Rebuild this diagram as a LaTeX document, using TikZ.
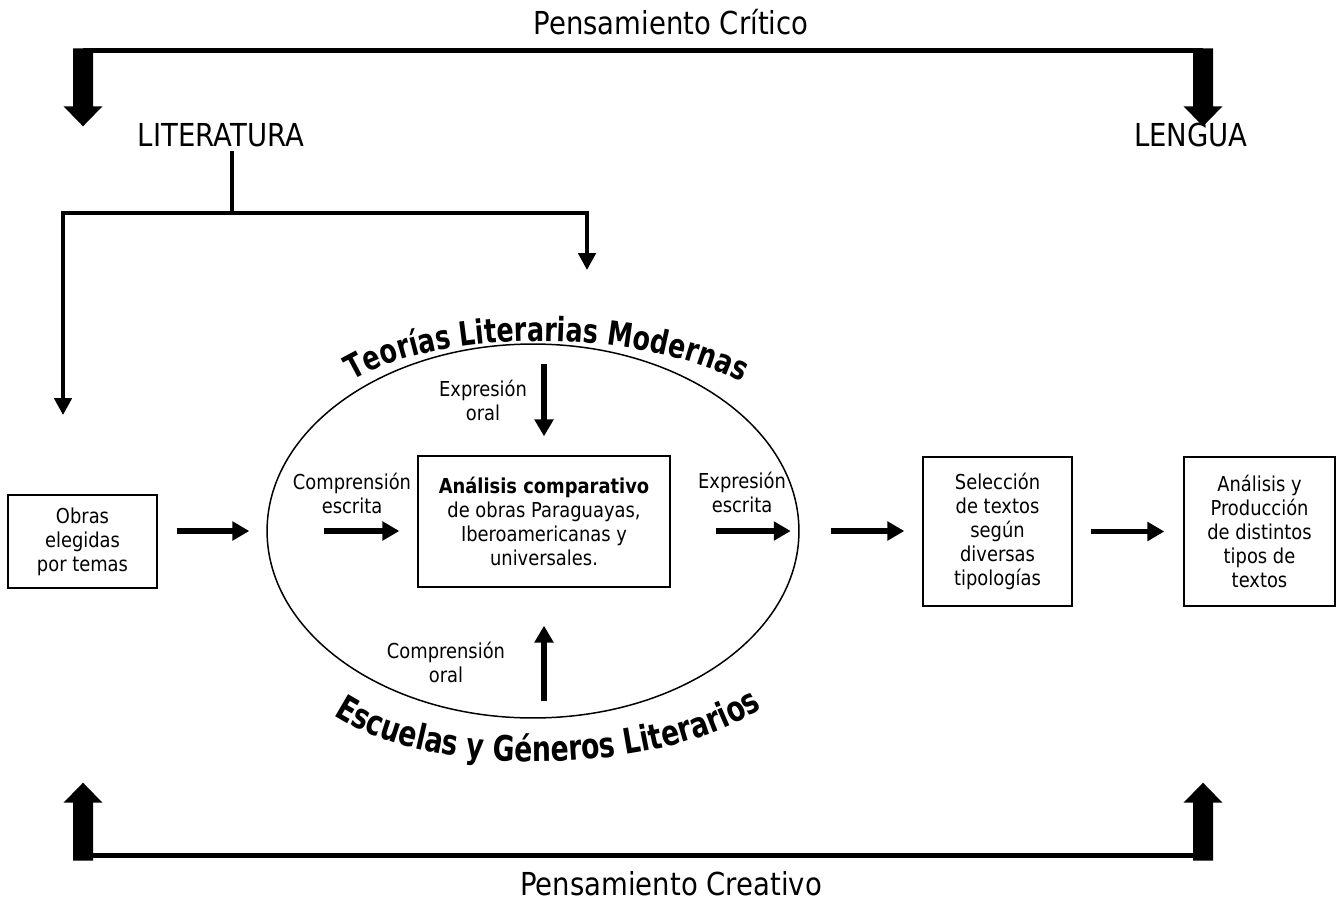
\documentclass[tikz,border=0pt]{standalone}
\usepackage{fontspec}
\setmainfont{DejaVu Sans}[FakeStretch=0.87]
\newfontfamily\arcfont{DejaVu Sans}[FakeStretch=0.76]
\usetikzlibrary{arrows.meta,shapes.geometric,decorations.text}

\newcommand\lblsize{\fontsize{11.7}{13.7}\selectfont}
\newcommand\bigsize{\fontsize{18}{21}\selectfont}
\newcommand\arctop{\arcfont\bfseries\fontsize{19}{19}\selectfont}
\newcommand\arcbot{\arcfont\bfseries\fontsize{20}{20}\selectfont}

\tikzset{%
    box/.style={draw, line width=0.8pt, align=center, inner sep=0pt, font=\lblsize},
    lbl/.style={align=center, inner sep=0pt, font=\lblsize},
    title/.style={font=\bigsize, inner sep=2pt},
    flow/.style={line width=3.1pt, -{Triangle[length=9.6pt,width=10.4pt]}},
    link/.style={line width=2.2pt},
    linkarrow/.style={link, -{Triangle[length=9.6pt,width=9.8pt]}},
    bracket/.style={line width=2.9pt},
    bigarrow/.pic={\fill (-10,0) -- (10,0) -- (10,58) -- (19.5,58) -- (0,78) -- (-19.5,58) -- (-10,58) -- cycle;}
}

\begin{document}
\begin{tikzpicture}[x=0.02cm,y=-0.02cm]
    \useasboundingbox (0,0) rectangle (1337,902);
%-----------------------------------------------
    \node[title, anchor=base] (critico) at (671,35) {Pensamiento Crítico};
    \node[title, anchor=base] (literatura) at (221,147) {LITERATURA};
    \node[title, anchor=base] (lengua) at (1191,147) {LENGUA};
    \node[title, anchor=base] (creativo) at (671,895) {Pensamiento Creativo};
%-----------------------------------------------
    \pic at (83,48.3) {bigarrow};
    \pic at (1203,48.3) {bigarrow};
    \coordinate (critL) at (83,50.8);
    \coordinate (critR) at (1203,50.8);
    \draw[bracket] (critL) -- (critR);
    \pic[rotate=180] at (83,860.7) {bigarrow};
    \pic[rotate=180] at (1203,860.7) {bigarrow};
    \coordinate (creaL) at (83,855.3);
    \coordinate (creaR) at (1203,855.3);
    \draw[bracket] (creaL) -- (creaR);
%-----------------------------------------------
    \coordinate (lj) at (232,213);
    \coordinate (litL) at (63,415);
    \coordinate (litR) at (587,270);
    \draw[link] (literatura.south -| lj) -- (lj);
    \draw[linkarrow] (lj) -| (litL);
    \draw[linkarrow] (lj) -| (litR);
%-----------------------------------------------
    \node[draw, ellipse, line width=0.85pt, minimum width=10.64cm, minimum height=7.48cm, inner sep=0pt] (ciclo) at (533,531) {};
    \path[decorate, decoration={text along path, text align=center,
        text={|\arctop|Teorías Literarias Modernas}}]
        (336,392) .. controls (420,324) and (650,324) .. (759,392);
    \path[decorate, decoration={text along path, text align=center,
        text={|\arcbot|Escuelas y Géneros Literarios}}]
        (326,710) .. controls (418,780) and (662,780) .. (770,703);
%-----------------------------------------------
    \node[box, minimum width=2.98cm, minimum height=1.86cm] (obras) at (82.5,541.5) {Obras\\elegidas\\por temas};
    \node[box, minimum width=5.04cm, minimum height=2.62cm] (analisis) at (544,521.5) {\textbf{Análisis comparativo}\\de obras Paraguayas,\\Iberoamericanas y\\universales.};
    \node[box, minimum width=2.98cm, minimum height=2.98cm] (seleccion) at (997.5,531.5) {Selección\\de textos\\según\\diversas\\tipologías};
    \node[box, minimum width=3.02cm, minimum height=2.98cm] (produccion) at (1259.5,531.5) {Análisis y\\Producción\\de distintos\\tipos de\\textos};
%-----------------------------------------------
    \node[lbl] (exoral) at (483,400) {Expresión\\oral};
    \node[lbl] (cescrita) at (352,493) {Comprensión\\escrita};
    \node[lbl] (eescrita) at (742,492) {Expresión\\escrita};
    \node[lbl] (coral) at (446,662) {Comprensión\\oral};
%-----------------------------------------------
    \draw[flow, shorten <=0.38cm, shorten >=0.34cm] (obras.east |- ciclo.west) -- (ciclo.west);
    \draw[flow, shorten <=1.16cm, shorten >=0.36cm] (ciclo.west) -- (analisis.west |- ciclo.west);
    \draw[flow, shorten <=0.9cm, shorten >=0.18cm] (analisis.east |- ciclo.east) -- (ciclo.east);
    \draw[flow, shorten <=0.62cm, shorten >=0.36cm] (ciclo.east) -- (seleccion.west |- ciclo.east);
    \draw[flow, shorten <=0.36cm, shorten >=0.38cm] (seleccion.east) -- (produccion.west);
    \draw[flow, shorten <=0.42cm, shorten >=0.38cm] (analisis.north |- ciclo.north) -- (analisis.north);
    \draw[flow, shorten <=0.36cm, shorten >=0.76cm] (analisis.south |- ciclo.south) -- (analisis.south);
\end{tikzpicture}
\end{document}
